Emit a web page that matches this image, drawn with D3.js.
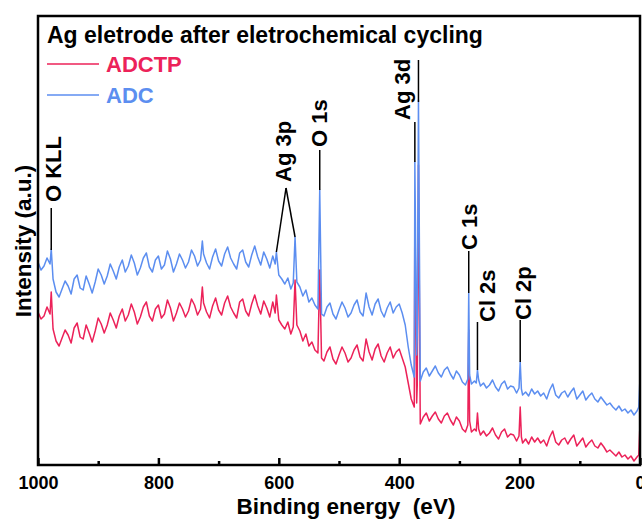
<!DOCTYPE html>
<html>
<head>
<meta charset="utf-8">
<script src="https://cdn.jsdelivr.net/npm/d3@7"></script>
<style>
  body { margin: 0; background: #fff; }
  svg { display: block; font-family: "Liberation Sans", Arial, sans-serif; font-weight: bold; }
</style>
</head>
<body>
<div id="chart"></div>
<script>
// binding energy (eV), shared by both spectra
var energy = [
  1000, 995, 990, 985, 980, 978, 975, 970, 965, 960,
  955, 950, 945, 940, 935, 930, 925, 920, 915, 910,
  905, 900, 895, 890, 885, 880, 875, 870, 865, 860,
  855, 850, 845, 840, 835, 830, 825, 820, 815, 810,
  805, 800, 795, 790, 785, 780, 775, 770, 765, 760,
  755, 750, 745, 740, 735, 730, 727, 725, 720, 715,
  710, 705, 700, 695, 690, 685, 680, 675, 670, 665,
  660, 655, 650, 645, 640, 635, 630, 625, 620, 615,
  610, 606, 604, 600, 595, 590, 585, 580, 576, 573,
  570, 565, 560, 555, 550, 545, 540, 535, 532, 529,
  525, 520, 515, 510, 505, 500, 495, 490, 485, 480,
  475, 470, 465, 460, 455, 450, 445, 440, 435, 430,
  425, 420, 415, 410, 405, 400, 395, 390, 385, 380,
  375, 374, 371, 370, 368, 365, 360, 355, 350, 345,
  340, 335, 330, 325, 320, 315, 310, 305, 300, 295,
  290, 286, 284.5, 283, 280, 275, 272, 270, 268, 265,
  260, 255, 250, 245, 240, 235, 230, 225, 220, 215,
  210, 205, 201, 199, 197, 195, 190, 185, 180, 175,
  170, 165, 160, 155, 150, 145, 140, 135, 130, 125,
  120, 115, 110, 105, 100, 95, 90, 85, 80, 75,
  70, 65, 60, 55, 50, 45, 40, 35, 30, 25,
  20, 15, 10, 5, 2, 0
];

// ADC intensity (a.u.)
var adc = [
  203, 195, 199, 207, 201, 216, 186, 173, 168, 176,
  184, 179, 171, 186, 190, 177, 175, 189, 181, 172,
  183, 196, 190, 181, 189, 201, 194, 186, 198, 205,
  193, 199, 210, 202, 190, 197, 207, 212, 198, 193,
  205, 209, 196, 200, 214, 206, 193, 201, 211, 205,
  197, 203, 215, 209, 199, 205, 224, 211, 202, 196,
  208, 216, 204, 199, 211, 218, 207, 201, 196, 212,
  215, 203, 198, 210, 219, 208, 200, 213, 206, 197,
  209, 201, 213, 190, 186, 181, 187, 176, 182, 228,
  183, 178, 169, 175, 163, 167, 160, 156, 275, 151,
  149, 158, 162, 151, 146, 155, 163, 157, 148, 152,
  160, 165, 153, 149, 172, 158, 150, 161, 166, 154,
  148, 157, 163, 152, 158, 161, 152, 140, 118, 100,
  88, 303, 110, 130, 365, 84, 93, 97, 89, 94,
  99, 92, 88, 95, 98, 91, 86, 94, 90, 83,
  80, 86, 172, 90, 81, 84, 82, 95, 85, 79,
  82, 77, 80, 85, 78, 74, 81, 84, 76, 79,
  78, 72, 77, 103, 76, 70, 73, 69, 76, 71,
  74, 69, 72, 66, 75, 81, 70, 67, 72, 74,
  68, 73, 77, 66, 70, 74, 65, 69, 72, 66,
  63, 68, 64, 60, 62, 58, 55, 59, 54, 56,
  52, 55, 50, 54, 58, 88
];

// ADCTP intensity (a.u.)
var adctp = [
  153, 146, 149, 158, 151, 173, 136, 124, 119, 127,
  135, 130, 122, 137, 142, 128, 126, 140, 132, 123,
  134, 147, 141, 132, 140, 152, 145, 137, 149, 156,
  144, 150, 161, 153, 141, 148, 158, 163, 149, 144,
  156, 160, 147, 151, 165, 157, 144, 152, 162, 156,
  148, 154, 166, 160, 150, 156, 178, 162, 153, 147,
  159, 167, 155, 150, 162, 169, 158, 152, 147, 163,
  166, 154, 149, 161, 170, 159, 151, 164, 157, 148,
  163, 152, 170, 145, 140, 136, 143, 131, 138, 185,
  140, 134, 124, 131, 119, 123, 115, 112, 195, 107,
  104, 113, 118, 106, 101, 110, 118, 112, 103, 107,
  115, 120, 108, 104, 126, 113, 105, 116, 121, 109,
  103, 112, 118, 107, 113, 116, 107, 98, 82, 66,
  58, 250, 62, 80, 300, 41, 48, 52, 44, 49,
  53, 46, 42, 49, 52, 45, 40, 48, 44, 36,
  33, 40, 135, 44, 33, 36, 34, 52, 36, 30,
  34, 29, 32, 37, 30, 26, 33, 36, 28, 31,
  30, 24, 29, 58, 28, 22, 26, 21, 28, 23,
  27, 22, 25, 19, 28, 34, 23, 20, 25, 27,
  21, 26, 30, 19, 23, 27, 18, 22, 25, 19,
  17, 22, 18, 13, 15, 12, 9, 13, 8, 10,
  6, 9, 4, 8, 10, 42
];

var majorTicks = [1000, 800, 600, 400, 200, 0];
var minorTicks = [900, 700, 500, 300, 100];

var seriesNames = ["ADCTP", "ADC"];
var seriesColors = ["#ec2259", "#5c8ef0"];

// peak labels
var peakLabels = ["O KLL", "Ag 3p", "O 1s", "Ag 3d", "C 1s", "Cl 2s", "Cl 2p"];

var width = 642, height = 523;
var margin = {top: 16, right: 2, bottom: 58, left: 38};

var svg = d3.select("#chart").append("svg")
    .attr("width", width).attr("height", height);

var x = d3.scaleLinear().domain([1000, 0]).range([margin.left, width - margin.right]);
var y = d3.scaleLinear().domain([0, 449]).range([height - margin.bottom, margin.top]);

var line = d3.line()
    .x(function(d) { return x(d[0]); })
    .y(function(d) { return y(d[1]); });

// red first, blue drawn on top
[adctp, adc].forEach(function(vals, i) {
  var pts = energy.map(function(e, k) { return [e, vals[k]]; });
  svg.append("path")
    .datum(pts)
    .attr("d", line)
    .attr("fill", "none")
    .attr("stroke", seriesColors[i])
    .attr("stroke-width", 1.5)
    .attr("stroke-linejoin", "round");
});

// frame
svg.append("rect")
  .attr("x", margin.left).attr("y", margin.top)
  .attr("width", width - margin.right - margin.left)
  .attr("height", height - margin.bottom - margin.top)
  .attr("fill", "none").attr("stroke", "#000").attr("stroke-width", 2.5);

var xAxis = svg.append("g")
  .attr("transform", "translate(0," + (height - margin.bottom) + ")")
  .call(d3.axisBottom(x).tickValues(majorTicks).tickSize(-7).tickPadding(11).tickFormat(d3.format("d")));
xAxis.select(".domain").remove();
xAxis.selectAll("line").attr("stroke-width", 2.5);
xAxis.selectAll("text").attr("font-size", 18).attr("font-weight", "bold")
  .attr("font-family", "Liberation Sans, Arial, sans-serif").attr("fill", "#000");

var xMinor = svg.append("g")
  .attr("transform", "translate(0," + (height - margin.bottom) + ")")
  .call(d3.axisBottom(x).tickValues(minorTicks).tickSize(-4).tickFormat(""));
xMinor.select(".domain").remove();
xMinor.selectAll("line").attr("stroke-width", 2.5);

svg.append("text")
  .attr("x", 346).attr("y", 514)
  .attr("text-anchor", "middle")
  .attr("font-size", 22.5)
  .style("white-space", "pre")
  .text("Binding energy  (eV)");

svg.append("text")
  .attr("transform", "translate(31,241) rotate(-90)")
  .attr("text-anchor", "middle")
  .attr("font-size", 22.5)
  .text("Intensity (a.u.)");

// title + legend
svg.append("text").attr("x", 47).attr("y", 43).attr("font-size", 23)
  .text("Ag eletrode after eletrochemical cycling");

seriesNames.forEach(function(name, i) {
  var ly = 64 + i * 31;
  svg.append("line").attr("x1", 47).attr("x2", 99).attr("y1", ly).attr("y2", ly)
    .attr("stroke", seriesColors[i]).attr("stroke-width", 1.5);
  svg.append("text").attr("x", 106).attr("y", ly + 8).attr("font-size", 22)
    .attr("fill", seriesColors[i]).text(name);
});

// peak annotations (rotated labels with leader lines)
var labelPos = [
  {tx: 61, ty: 202},
  {tx: 291, ty: 182},
  {tx: 327, ty: 147},
  {tx: 410, ty: 120},
  {tx: 477, ty: 250},
  {tx: 495, ty: 322},
  {tx: 531, ty: 320}
];
var leaders = [
  [[[978, 208], [978, 250]]],
  [[[588, 188], [604, 252]], [[588, 188], [573, 237]]],
  [[[532, 150], [532, 190]]],
  [[[368, 60], [368, 102]], [[374, 122], [374, 162]]],
  [[[284.5, 251], [284.5, 293]]],
  [[[270, 322], [270, 370]]],
  [[[199, 320], [199, 362]]]
];

peakLabels.forEach(function(lbl, i) {
  svg.append("text")
    .attr("transform", "translate(" + labelPos[i].tx + "," + labelPos[i].ty + ") rotate(-90)")
    .attr("font-size", 22)
    .text(lbl);
  leaders[i].forEach(function(seg) {
    svg.append("line")
      .attr("x1", x(seg[0][0])).attr("y1", seg[0][1])
      .attr("x2", x(seg[1][0])).attr("y2", seg[1][1])
      .attr("stroke", "#000").attr("stroke-width", 1.5);
  });
});
</script>
</body>
</html>
